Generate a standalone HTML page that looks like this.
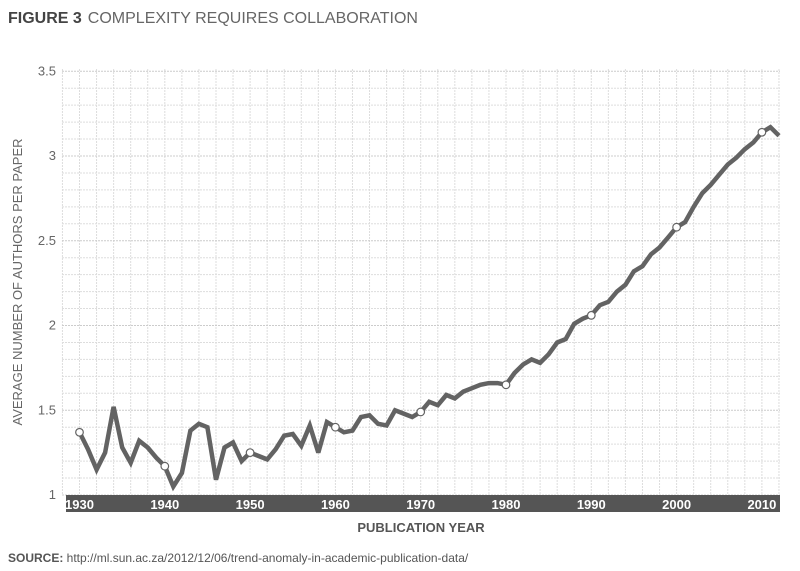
<!DOCTYPE html>
<html><head><meta charset="utf-8">
<style>
body{margin:0;background:#fff;}
svg{display:block;font-family:"Liberation Sans Narrow","Liberation Sans",sans-serif;}
</style></head>
<body>
<svg id="chart" width="800" height="571" viewBox="0 0 800 571">
  <text x="8" y="23" font-size="16" fill="#555"><tspan font-weight="bold" fill="#444">FIGURE 3</tspan><tspan dx="6" fill="#666">COMPLEXITY REQUIRES COLLABORATION</tspan></text>
  <g id="grid"></g>
  <rect x="66" y="495" width="714" height="17" fill="#555"/>
  <g id="xticks"></g>
  <g id="yticks"></g>
  <text transform="translate(22,282) rotate(-90)" text-anchor="middle" font-size="13" fill="#666">AVERAGE NUMBER OF AUTHORS PER PAPER</text>
  <text x="421" y="532" text-anchor="middle" font-size="13" font-weight="bold" fill="#555">PUBLICATION YEAR</text>
  <g id="series"></g>
  <text x="8" y="562" font-size="12" fill="#555"><tspan font-weight="bold">SOURCE:</tspan> http://ml.sun.ac.za/2012/12/06/trend-anomaly-in-academic-publication-data/</text>
</svg>
<script>
const startYear = 1930;
const values = [1.37,1.27,1.15,1.25,1.52,1.28,1.19,1.32,1.28,1.22,1.17,1.05,1.13,1.38,1.42,1.40,1.09,1.28,1.31,1.20,
1.25,1.23,1.21,1.27,1.35,1.36,1.29,1.41,1.25,1.43,1.40,1.37,1.38,1.46,1.47,1.42,1.41,1.50,1.48,1.46,
1.49,1.55,1.53,1.59,1.57,1.61,1.63,1.65,1.66,1.66,1.65,1.72,1.77,1.80,1.78,1.83,1.90,1.92,2.01,2.04,
2.06,2.12,2.14,2.20,2.24,2.32,2.35,2.42,2.46,2.52,2.58,2.61,2.70,2.78,2.83,2.89,2.95,2.99,3.04,3.08,
3.14,3.17,3.12];
const xTickLabels = ["1930","1940","1950","1960","1970","1980","1990","2000","2010"];
const yTickLabels = ["1","1.5","2","2.5","3","3.5"];
const markerYears = [1930,1940,1950,1960,1970,1980,1990,2000,2010];

const NS = "http://www.w3.org/2000/svg";
const x = yr => 79.5 + (yr - 1930) * 8.53;
const y = v => 495 - (v - 1) * 169.5;
function mk(tag, attrs, parent){const e=document.createElementNS(NS,tag);for(const k in attrs)e.setAttribute(k,attrs[k]);parent.appendChild(e);return e;}

const grid = document.getElementById('grid');
for (let yr = 1928; x(yr) <= 780; yr += 2) {
  const l = mk('line',{x1:x(yr),x2:x(yr),y1:69,y2:495,stroke:'#ddd','stroke-width':1,'stroke-dasharray':'2,1'},grid);
  
  
}
for (let i = 0; i <= 25; i++) {
  const v = 1 + i * 0.1;
  const l = mk('line',{x1:62,x2:780,y1:y(v),y2:y(v),stroke:(i%5===0)?'#ccc':'#ddd','stroke-width':1,'stroke-dasharray':'2,1'},grid);
  
  
}

const xt = document.getElementById('xticks');
xTickLabels.forEach(s => {
  const t = mk('text',{x:x(+s),y:509,'text-anchor':'middle','font-size':13,'font-weight':'bold',fill:'#fff'},xt);
  t.textContent = s;
  
  
});
const yt = document.getElementById('yticks');
yTickLabels.forEach(s => {
  const t = mk('text',{x:56,y:y(+s)+4,'text-anchor':'end','font-size':13,fill:'#666'},yt);
  t.textContent = s;
  
  
});

const series = document.getElementById('series');
const pts = values.map((v,i)=>x(startYear+i).toFixed(1)+','+y(v).toFixed(1)).join(' ');
const line = mk('polyline',{points:pts,fill:'none',stroke:'#636363','stroke-width':4.5,'stroke-linejoin':'miter','stroke-miterlimit':3},series);


markerYears.forEach(yr => {
  const v = values[yr - startYear];
  const c = mk('circle',{cx:x(yr),cy:y(v),r:3.8,fill:'#fff',stroke:'#636363','stroke-width':1.2},series);
  
  
});
</script>
</body></html>
